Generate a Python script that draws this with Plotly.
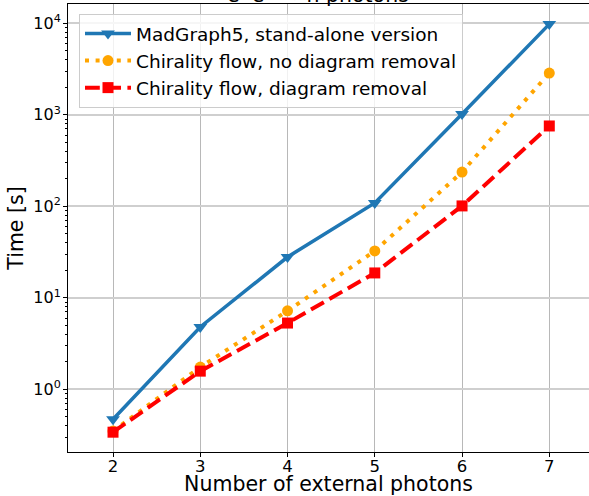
import plotly.graph_objects as go

n_photons = [2, 3, 4, 5, 6, 7]
madgraph = [0.47, 4.8, 27.9, 109, 1020, 9800]
chiral_no_removal = [0.35, 1.75, 7.2, 32.5, 237, 2860]
chiral_removal = [0.34, 1.58, 5.3, 18.7, 101, 755]

names = ["MadGraph5, stand-alone version",
         "Chirality flow, no diagram removal",
         "Chirality flow, diagram removal"]

FONT = "DejaVu Sans"
W, H = 589, 496
L, R, T, B = 68, 0, 4, 44

fig = go.Figure()
fig.add_trace(go.Scatter(
    x=n_photons, y=madgraph, name=names[0], mode="lines+markers",
    line=dict(color="#1f77b4", width=3.5),
    marker=dict(symbol="triangle-down", size=12, color="#1f77b4")))
fig.add_trace(go.Scatter(
    x=n_photons, y=chiral_no_removal, name=names[1], mode="lines+markers",
    line=dict(color="orange", width=4, dash="4px,6.6px"),
    marker=dict(symbol="circle", size=11, color="orange")))
fig.add_trace(go.Scatter(
    x=n_photons, y=chiral_removal, name=names[2], mode="lines+markers",
    line=dict(color="red", width=4, dash="14.8px,6.4px"),
    marker=dict(symbol="square", size=11, color="red")))

ytv = [1, 10, 100, 1000, 10000]
ytt = ["10<sup>0</sup>", "10<sup>1</sup>", "10<sup>2</sup>", "10<sup>3</sup>", "10<sup>4</sup>"]

fig.update_layout(
    width=W, height=H,
    margin=dict(l=L, r=R, t=T, b=B, pad=0, autoexpand=False),
    paper_bgcolor="white", plot_bgcolor="white",
    font=dict(family=FONT, color="black"),
    showlegend=True,
    legend=dict(x=(79 - L) / (W - L - R), y=(H - B - 14) / (H - T - B),
                xanchor="left", yanchor="top",
                font=dict(size=18.5, family=FONT),
                bgcolor="rgba(255,255,255,0.8)", bordercolor="#cccccc",
                borderwidth=1, itemwidth=46),
    xaxis=dict(range=[1.484, 7.455], tickvals=n_photons, ticks="outside",
               ticklen=4, tickcolor="black", showline=True, linecolor="black",
               linewidth=1, mirror=True, showgrid=True, gridcolor="#b8b8b8",
               gridwidth=1, zeroline=False, tickfont=dict(size=16.5),
               automargin=False, ticklabelstandoff=-5,
               title=dict(text="Number of external photons",
                          font=dict(size=20.5), standoff=2)),
    yaxis=dict(type="log", range=[-0.685, 4.211], tickvals=ytv, ticktext=ytt,
               ticks="outside", ticklen=4, tickcolor="black", showline=True,
               linecolor="black", linewidth=1, showgrid=True,
               gridcolor="#cfcfcf", gridwidth=1.5, zeroline=False,
               tickfont=dict(size=16), automargin=False, ticklabelstandoff=-1,
               minor=dict(ticks="outside", ticklen=2, tickcolor="black",
                          dtick="D1", showgrid=False),
               title=dict(text="Time [s]", font=dict(size=20.5), standoff=4)),
)

fig.add_annotation(
    text="e<sup>+</sup>e<sup>−</sup> → n photons", xref="paper", yref="paper",
    x=(318 - L) / (W - L - R), y=(H - B - 9) / (H - T - B),
    xanchor="center", yanchor="bottom", showarrow=False,
    font=dict(size=20.5, family=FONT))

fig.write_html("out.html",
               config={"displayModeBar": False},
               post_script="document.body.style.margin='0';"
                           "document.body.style.overflow='hidden';")
